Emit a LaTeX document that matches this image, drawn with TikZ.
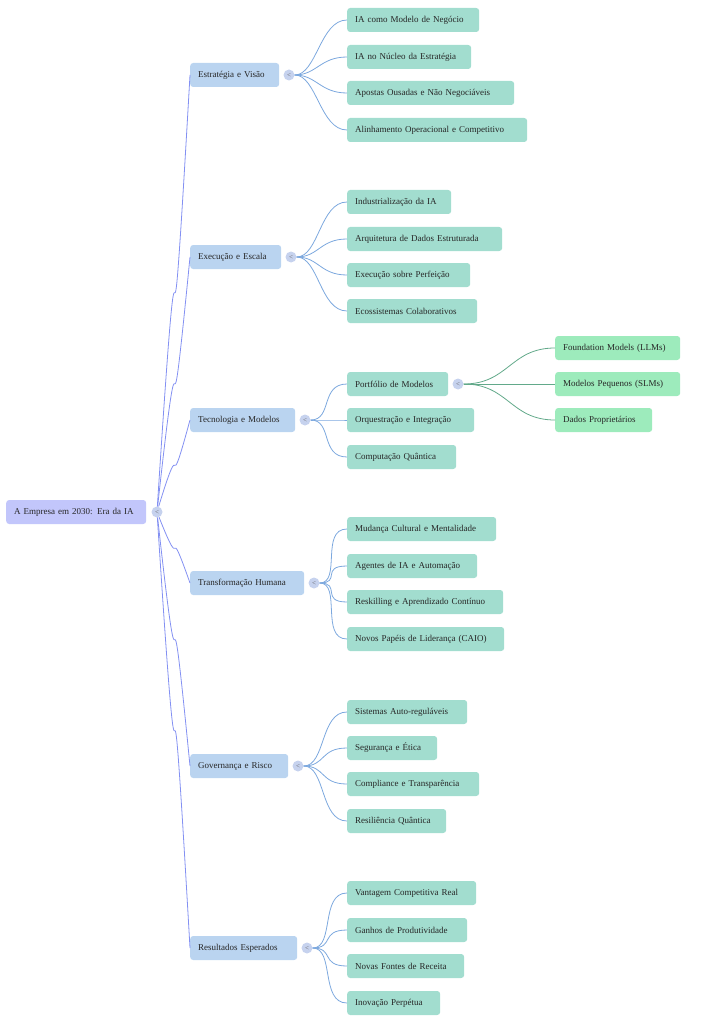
\documentclass[tikz,border=0pt]{standalone}
\usepackage{fontspec}
\setmainfont{Liberation Serif}
\begin{document}
\begin{tikzpicture}[x=1pt,y=-1pt,
 box/.style={anchor=west,rounded corners=3pt,minimum height=24pt,inner xsep=8pt,inner ysep=0pt,font=\fontsize{9}{11}\selectfont,text=black!85},
 root/.style={box,fill=rootc},
 l1/.style={box,fill=l1c},
 l2/.style={box,fill=l2c},
 l3/.style={box,fill=l3c},
 tog/.style={circle,fill=togc,minimum size=11pt,inner sep=0pt,font=\fontsize{7}{7}\selectfont,text=black!60},
 e0/.style={draw=e0c,line width=0.8pt},
 e1/.style={draw=e1c,line width=0.8pt},
 e2/.style={draw=e2c,line width=0.8pt}]
\definecolor{rootc}{HTML}{C2C6FB}
\definecolor{l1c}{HTML}{BAD4F0}
\definecolor{l2c}{HTML}{A2DDCF}
\definecolor{l3c}{HTML}{9DEBBC}
\definecolor{togc}{HTML}{C6D2EE}
\definecolor{e0c}{HTML}{8390F2}
\definecolor{e1c}{HTML}{7CA8DE}
\definecolor{e2c}{HTML}{62A98A}
\useasboundingbox (0,0) rectangle (702,1024);
\node[root,text width=124pt] (r) at (6,512) {A Empresa em 2030: Era da IA};
\node[tog] (rt) at (157,512) {<};
% level 1: name, y, right, label
\foreach \n/\y/\r/\t in {a/75/279/Estratégia e Visão, b/257/281/Execução e Escala, c/420/295/Tecnologia e Modelos, d/583/304/Transformação Humana, e/766/288/Governança e Risco, f/948/297/Resultados Esperados}{
  \pgfmathsetmacro\w{\r-190-16}
  \node[l1,text width=\w pt] (\n) at (190,\y) {\t};
  \node[tog] (\n t) at (\r+10,\y) {<};
  \draw[e0] (rt) .. controls (185,\y) and (165,512) .. (\n.west);
}
\foreach \p/\n/\y/\r/\t in {
 a/a1/20/479/IA como Modelo de Negócio, a/a2/57/471/IA no Núcleo da Estratégia, a/a3/93/514/Apostas Ousadas e Não Negociáveis, a/a4/130/527/Alinhamento Operacional e Competitivo,
 b/b1/202/451/Industrialização da IA, b/b2/239/502/Arquitetura de Dados Estruturada, b/b3/275/470/Execução sobre Perfeição, b/b4/311/477/Ecossistemas Colaborativos,
 c/c1/384/448/Portfólio de Modelos, c/c2/420/474/Orquestração e Integração, c/c3/457/456/Computação Quântica,
 d/d1/529/496/Mudança Cultural e Mentalidade, d/d2/566/477/Agentes de IA e Automação, d/d3/602/503/Reskilling e Aprendizado Contínuo, d/d4/639/504/Novos Papéis de Liderança (CAIO),
 e/e1/712/467/Sistemas Auto-reguláveis, e/e2/748/437/Segurança e Ética, e/e3/784/479/Compliance e Transparência, e/e4/821/446/Resiliência Quântica,
 f/f1/893/476/Vantagem Competitiva Real, f/f2/930/467/Ganhos de Produtividade, f/f3/966/464/Novas Fontes de Receita, f/f4/1003/440/Inovação Perpétua}{
  \pgfmathsetmacro\w{\r-347-16}
  \node[l2,text width=\w pt] (\n) at (347,\y) {\t};
  \draw[e1] (\p t.east) .. controls +(22,0) and (320,\y) .. (\n.west);
}
\node[tog] (c1t) at (458,384) {<};
\foreach \n/\y/\r/\t in {g1/348/680/Foundation Models (LLMs), g2/384/680/Modelos Pequenos (SLMs), g3/420/652/Dados Proprietários}{
  \pgfmathsetmacro\w{\r-555-16}
  \node[l3,text width=\w pt] (\n) at (555,\y) {\t};
  \draw[e2] (c1t.east) .. controls +(45,0) and (510,\y) .. (\n.west);
}
\end{tikzpicture}
\end{document}
